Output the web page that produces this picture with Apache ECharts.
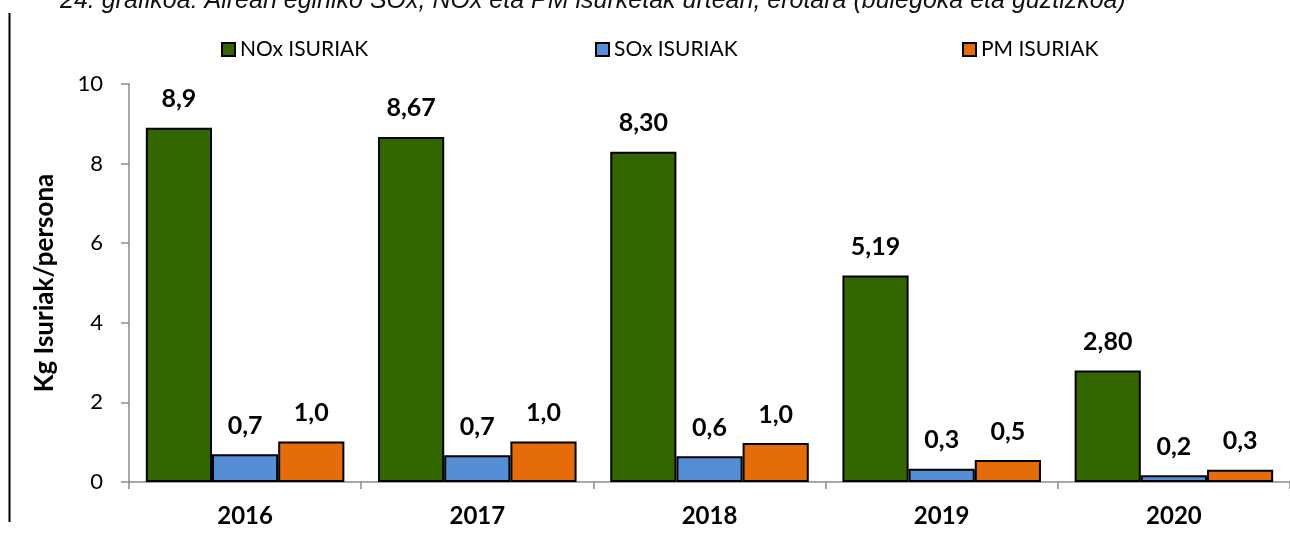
<!DOCTYPE html>
<html><head><meta charset="utf-8">
<script src="https://cdn.jsdelivr.net/npm/echarts@6/dist/echarts.min.js"></script>
<style>html,body{margin:0;padding:0;background:#fff}#c{width:1290px;height:533px}</style>
</head><body><div id="c"></div>
<script>
const categories = ['2016','2017','2018','2019','2020'];
const noxValues = [8.9, 8.67, 8.30, 5.19, 2.80];
const soxValues = [0.70, 0.67, 0.65, 0.33, 0.17];
const pmValues = [1.02, 1.02, 0.98, 0.55, 0.31];
const noxLabels = ['8,9','8,67','8,30','5,19','2,80'];
const soxLabels = ['0,7','0,7','0,6','0,3','0,2'];
const pmLabels = ['1,0','1,0','1,0','0,5','0,3'];
const yTicks = [0, 2, 4, 6, 8, 10];
const seriesNames = ['NOx ISURIAK','SOx ISURIAK','PM ISURIAK'];
const colors = ['#336600','#558ED5','#E46C0A'];

const FONT = 'Lato, "Open Sans", sans-serif';
const chart = echarts.init(document.getElementById('c'), null, {renderer:'canvas'});

function mkSeries(i, vals, labels){
  return {
    name: seriesNames[i], type:'bar', data: vals,
    barGap: '0%', barCategoryGap: '14.5%',
    itemStyle:{color:colors[i], borderColor:'#000', borderWidth:2},
    label:{show:true, position:'top', distance:16, color:'#000', fontWeight:'bold', fontSize:25, fontFamily:FONT,
      formatter: p => labels[p.dataIndex]},
    emphasis:{disabled:true}
  };
}
const legendBase = {top: 34, icon:'rect', itemWidth: 13, itemHeight: 13, itemGap: 0,
  textStyle:{fontSize:21, fontFamily:FONT, color:'#000'},
  itemStyle:{borderColor:'#000', borderWidth:2}};

chart.setOption({
  animation:false,
  title:{text:'24. grafikoa: Airean eginiko SOx, NOx eta PM isurketak urtean, erotara (bulegoka eta guztizkoa)',
    left:60, top:-11, padding:0,
    textStyle:{fontSize:25, fontStyle:'italic', fontWeight:'normal', color:'#111', fontFamily:'"Liberation Sans", Arial, sans-serif'}},
  legend:[
    Object.assign({}, legendBase, {left:216, data:[seriesNames[0]]}),
    Object.assign({}, legendBase, {left:590, data:[seriesNames[1]]}),
    Object.assign({}, legendBase, {left:957, data:[seriesNames[2]]})
  ],
  grid:{left:129, right:-3, top:84, bottom:51, containLabel:false},
  xAxis:{type:'category', data:categories,
    axisLine:{lineStyle:{color:'#8c8c8c', width:1.5}},
    axisTick:{show:true, length:7, lineStyle:{color:'#8c8c8c', width:1.5}},
    axisLabel:{color:'#000', fontWeight:'bold', fontSize:24, fontFamily:FONT, margin:22}},
  yAxis:{type:'value', min:yTicks[0], max:yTicks[yTicks.length-1], interval:2,
    name:'Kg Isuriak/persona', nameLocation:'middle', nameGap:71, nameRotate:90,
    nameTextStyle:{color:'#000', fontWeight:'bold', fontSize:26, fontFamily:FONT},
    axisLine:{show:true, lineStyle:{color:'#8c8c8c', width:1.5}},
    axisTick:{show:true, length:8, lineStyle:{color:'#8c8c8c', width:1.5}},
    splitLine:{show:false},
    axisLabel:{color:'#000', fontSize:22, fontFamily:FONT, margin:26}},
  graphic:[{type:'line', shape:{x1:9.5,y1:13,x2:9.5,y2:522}, style:{stroke:'#000', lineWidth:2}}],
  series:[mkSeries(0,noxValues,noxLabels), mkSeries(1,soxValues,soxLabels), mkSeries(2,pmValues,pmLabels)]
});
</script></body></html>
